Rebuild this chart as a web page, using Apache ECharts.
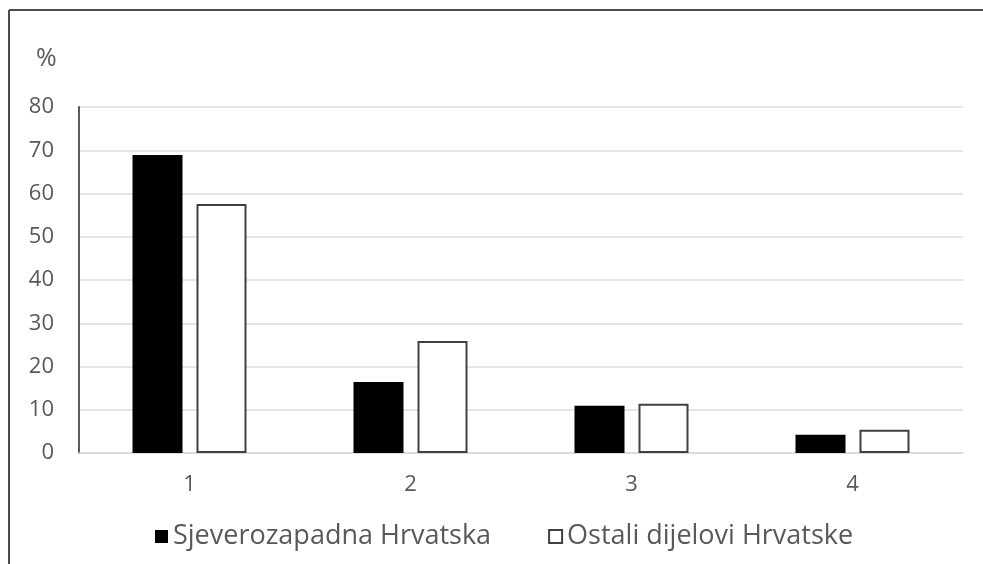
<!DOCTYPE html>
<html>
<head>
<meta charset="utf-8">
<script src="https://cdn.jsdelivr.net/npm/echarts@6/dist/echarts.min.js"></script>
<style>
html,body{margin:0;padding:0;background:#fff;}
#chart{width:983px;height:564px;}
</style>
</head>
<body>
<div id="chart"></div>
<script>
const categories = ['1', '2', '3', '4'];
const seriesNames = ['Sjeverozapadna Hrvatska', 'Ostali dijelovi Hrvatske'];
const sjeverozapadna = [68.9, 16.4, 10.9, 4.2];
const ostali = [57.6, 25.9, 11.4, 5.4];
const yTicks = [0, 10, 20, 30, 40, 50, 60, 70, 80];

const font = '"Open Sans", "Noto Sans", sans-serif';
const chart = echarts.init(document.getElementById('chart'), null, {renderer: 'canvas'});
chart.setOption({
  animation: false,
  backgroundColor: '#ffffff',
  textStyle: {fontFamily: font},
  grid: {left: 79, right: 20, top: 107, bottom: 111, containLabel: false},
  legend: {
    data: seriesNames,
    left: 150,
    top: 518,
    itemWidth: 13,
    itemHeight: 13,
    itemGap: 57,
    icon: 'rect',
    textStyle: {fontFamily: font, fontSize: 27, color: '#595959'}
  },
  xAxis: {
    type: 'category',
    data: categories,
    axisLine: {show: true, lineStyle: {color: '#d9d9d9', width: 1.5}},
    axisTick: {show: false},
    axisLabel: {fontFamily: font, fontSize: 22, color: '#595959', margin: 21}
  },
  yAxis: {
    type: 'value',
    min: yTicks[0],
    max: yTicks[yTicks.length - 1],
    interval: 10,
    axisLine: {show: true, lineStyle: {color: '#595959', width: 2}},
    axisTick: {show: false},
    axisLabel: {fontFamily: font, fontSize: 22, color: '#595959', margin: 25},
    splitLine: {show: true, lineStyle: {color: '#e3dcdc', width: 1.5}}
  },
  graphic: [
    {type: 'line', shape: {x1: 9, y1: 10, x2: 983, y2: 10}, style: {stroke: '#4d4d4d', lineWidth: 2}},
    {type: 'line', shape: {x1: 9, y1: 10, x2: 9, y2: 564}, style: {stroke: '#4d4d4d', lineWidth: 2}},
    {type: 'text', left: 36, top: 46, style: {text: '%', font: '25px ' + font, fill: '#595959'}}
  ],
  series: [
    {
      name: seriesNames[0],
      type: 'bar',
      data: sjeverozapadna,
      barWidth: 50,
      barGap: '28%',
      itemStyle: {color: '#000000', borderColor: '#000000', borderWidth: 0}
    },
    {
      name: seriesNames[1],
      type: 'bar',
      data: ostali,
      barWidth: 50,
      barGap: '28%',
      itemStyle: {color: '#ffffff', borderColor: '#404040', borderWidth: 2}
    }
  ]
});
</script>
</body>
</html>
